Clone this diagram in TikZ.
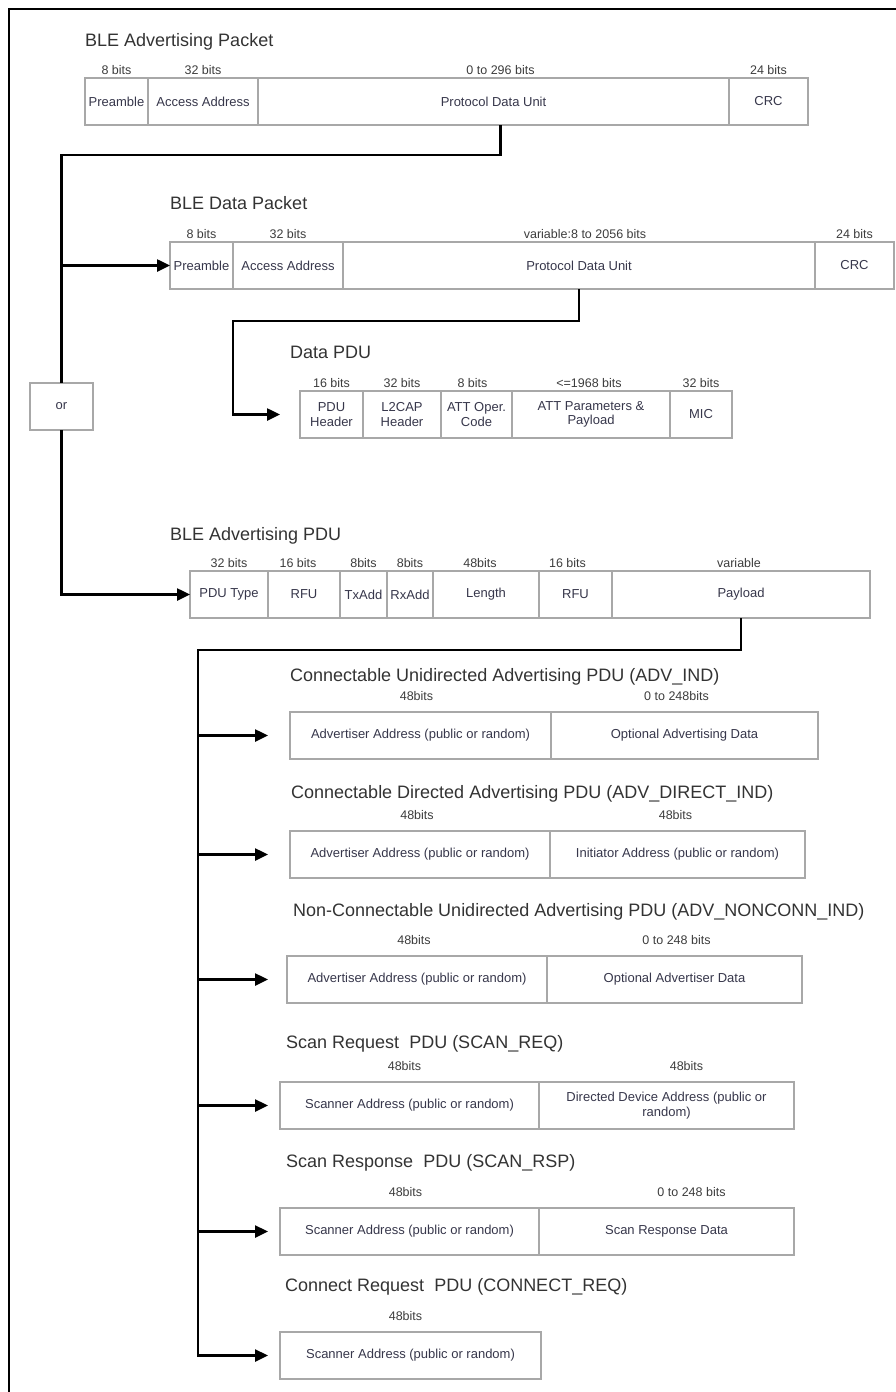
\documentclass[tikz,border=0pt]{standalone}
\usepackage{fontspec}
\setmainfont{Liberation Sans}
\usetikzlibrary{positioning,arrows.meta}

\definecolor{fieldline}{RGB}{168,168,168}
\definecolor{fieldtext}{RGB}{55,55,75}
\definecolor{headtext}{RGB}{51,51,51}
\definecolor{sizetext}{RGB}{60,60,60}

\begin{document}
\begin{tikzpicture}[x=1pt, y=-1pt]
    \tikzset{
      field/.style={draw=fieldline, line width=1.3pt, fill=white, minimum height=47pt,
        inner sep=0pt, outer sep=0pt, anchor=north west, align=center,
        text=fieldtext, font=\fontsize{13}{14.5}\selectfont},
      bitlabel/.style={anchor=base, inner sep=0pt, text=sizetext, font=\fontsize{12.5}{14}\selectfont},
      heading/.style={anchor=base west, inner sep=0pt, text=headtext, font=\fontsize{18}{21}\selectfont},
      bus/.style={line width=2.5pt},
      feed/.style={-{Triangle[length=13pt, width=12pt]}}
    }
    \useasboundingbox (0,0) rectangle (896,1392);

    % Outer frame
    \draw[line width=2pt] (896,8.5) -- (8.5,8.5) -- (8.5,1392);

    % BLE advertising packet
    \node[heading] (atitle) at (85,46) {BLE Advertising Packet};
    \node[field, minimum width=63pt] (apre) at (85,78) {Preamble};
    \node[field, minimum width=110pt, right=0pt of apre] (aaddr) {Access Address};
    \node[field, minimum width=471pt, right=0pt of aaddr] (apdu) {Protocol Data Unit};
    \node[field, minimum width=79pt, right=0pt of apdu] (acrc) {CRC};
    \node[bitlabel] (aprebits) at ([yshift=4pt]apre.north) {8 bits};
    \node[bitlabel] (aaddrbits) at ([yshift=4pt]aaddr.north) {32 bits};
    \node[bitlabel] (apdubits) at ([yshift=4pt, xshift=7pt]apdu.north) {0 to 296 bits};
    \node[bitlabel] (acrcbits) at ([yshift=4pt]acrc.north) {24 bits};

    % BLE data packet
    \node[heading] (dtitle) at (170,209) {BLE Data Packet};
    \node[field, minimum width=63pt] (dpre) at (170,242) {Preamble};
    \node[field, minimum width=110pt, right=0pt of dpre] (daddr) {Access Address};
    \node[field, minimum width=472pt, right=0pt of daddr] (dpdu) {Protocol Data Unit};
    \node[field, minimum width=79pt, right=0pt of dpdu] (dcrc) {CRC};
    \node[bitlabel] (dprebits) at ([yshift=4pt]dpre.north) {8 bits};
    \node[bitlabel] (daddrbits) at ([yshift=4pt]daddr.north) {32 bits};
    \node[bitlabel] (dpdubits) at ([yshift=4pt, xshift=6pt]dpdu.north) {variable:8 to 2056 bits};
    \node[bitlabel] (dcrcbits) at ([yshift=4pt]dcrc.north) {24 bits};

    % Data PDU
    \node[heading] (ptitle) at (290,358) {Data PDU};
    \node[field, minimum width=63pt] (phdr) at (300,391) {PDU\\Header};
    \node[field, minimum width=78pt, right=0pt of phdr] (pl2c) {L2CAP\\Header};
    \node[field, minimum width=71pt, right=0pt of pl2c] (pop) {ATT Oper.\\Code};
    \node[field, minimum width=158pt, right=0pt of pop] (ppar) {ATT Parameters \&\\Payload};
    \node[field, minimum width=62pt, right=0pt of ppar] (pmic) {MIC};
    \node[bitlabel] (phdrbits) at ([yshift=4pt]phdr.north) {16 bits};
    \node[bitlabel] (pl2cbits) at ([yshift=4pt]pl2c.north) {32 bits};
    \node[bitlabel] (popbits) at ([yshift=4pt, xshift=-4pt]pop.north) {8 bits};
    \node[bitlabel] (pparbits) at ([yshift=4pt, xshift=-2pt]ppar.north) {<=1968 bits};
    \node[bitlabel] (pmicbits) at ([yshift=4pt]pmic.north) {32 bits};

    % BLE advertising PDU
    \node[heading] (vtitle) at (170,540) {BLE Advertising PDU};
    \node[field, minimum width=78pt] (vtype) at (190,571) {PDU Type};
    \node[field, minimum width=72pt, right=0pt of vtype] (vrfu) {RFU};
    \node[field, minimum width=47pt, right=0pt of vrfu] (vtx) {TxAdd};
    \node[field, minimum width=46pt, right=0pt of vtx] (vrx) {RxAdd};
    \node[field, minimum width=106pt, right=0pt of vrx] (vlen) {Length};
    \node[field, minimum width=73pt, right=0pt of vlen] (vrfub) {RFU};
    \node[field, minimum width=258pt, right=0pt of vrfub] (vpay) {Payload};
    \node[bitlabel] (vtypebits) at ([yshift=4pt]vtype.north) {32 bits};
    \node[bitlabel] (vrfubits) at ([yshift=4pt, xshift=-6pt]vrfu.north) {16 bits};
    \node[bitlabel] (vtxbits) at ([yshift=4pt]vtx.north) {8bits};
    \node[bitlabel] (vrxbits) at ([yshift=4pt]vrx.north) {8bits};
    \node[bitlabel] (vlenbits) at ([yshift=4pt, xshift=-6pt]vlen.north) {48bits};
    \node[bitlabel] (vrfubbits) at ([yshift=4pt, xshift=-8pt]vrfub.north) {16 bits};
    \node[bitlabel] (vpaybits) at ([yshift=4pt, xshift=-2pt]vpay.north) {variable};

    % Payload variants
    \node[heading] (indtitle) at (290,681) {Connectable Unidirected Advertising PDU (ADV\_IND)};
    \node[field, minimum width=261pt] (indaddr) at (290,712) {Advertiser Address (public or random)};
    \node[field, minimum width=267pt, right=0pt of indaddr] (inddata) {Optional Advertising Data};
    \node[bitlabel] (indaddrbits) at ([yshift=12pt, xshift=-4pt]indaddr.north) {48bits};
    \node[bitlabel] (inddatabits) at ([yshift=12pt, xshift=-8pt]inddata.north) {0 to 248bits};

    \node[heading] (dirtitle) at (291,798) {Connectable Directed Advertising PDU (ADV\_DIRECT\_IND)};
    \node[field, minimum width=260pt] (diraddr) at (290,831) {Advertiser Address (public or random)};
    \node[field, minimum width=255pt, right=0pt of diraddr] (dirinit) {Initiator Address (public or random)};
    \node[bitlabel] (diraddrbits) at ([yshift=12pt, xshift=-3pt]diraddr.north) {48bits};
    \node[bitlabel] (dirinitbits) at ([yshift=12pt, xshift=-2pt]dirinit.north) {48bits};

    \node[heading] (ncntitle) at (293,916) {Non-Connectable Unidirected Advertising PDU (ADV\_NONCONN\_IND)};
    \node[field, minimum width=260pt] (ncnaddr) at (287,956) {Advertiser Address (public or random)};
    \node[field, minimum width=255pt, right=0pt of ncnaddr] (ncndata) {Optional Advertiser Data};
    \node[bitlabel] (ncnaddrbits) at ([yshift=12pt, xshift=-3pt]ncnaddr.north) {48bits};
    \node[bitlabel] (ncndatabits) at ([yshift=12pt, xshift=2pt]ncndata.north) {0 to 248 bits};

    \node[heading] (sreqtitle) at (286,1048) {Scan Request\ \ PDU (SCAN\_REQ)};
    \node[field, minimum width=259pt] (sreqscan) at (280,1082) {Scanner Address (public or random)};
    \node[field, minimum width=255pt, right=0pt of sreqscan] (sreqdev) {Directed Device Address (public or\\random)};
    \node[bitlabel] (sreqscanbits) at ([yshift=12pt, xshift=-5pt]sreqscan.north) {48bits};
    \node[bitlabel] (sreqdevbits) at ([yshift=12pt, xshift=20pt]sreqdev.north) {48bits};

    \node[heading] (srsptitle) at (286,1167) {Scan Response\ \ PDU (SCAN\_RSP)};
    \node[field, minimum width=259pt] (srspscan) at (280,1208) {Scanner Address (public or random)};
    \node[field, minimum width=255pt, right=0pt of srspscan] (srspdata) {Scan Response Data};
    \node[bitlabel] (srspscanbits) at ([yshift=12pt, xshift=-4pt]srspscan.north) {48bits};
    \node[bitlabel] (srspdatabits) at ([yshift=12pt, xshift=25pt]srspdata.north) {0 to 248 bits};

    \node[heading] (creqtitle) at (285,1291) {Connect Request\ \ PDU (CONNECT\_REQ)};
    \node[field, minimum width=261pt] (creqscan) at (280,1332) {Scanner Address (public or random)};
    \node[bitlabel] (creqscanbits) at ([yshift=12pt, xshift=-5pt]creqscan.north) {48bits};

    % Choice between the two packet kinds
    \node[field, minimum width=63pt, anchor=center] (orbox) at (61.5,406.5) {or};

    % Bus lines
    \coordinate (upbus) at (61.5,155);
    \coordinate (lowbus) at (198,650);
    \coordinate (tipline) at (268,0);

    \draw[bus] ([xshift=7pt]apdu.south) |- (upbus) -- (orbox.north);
    \draw[bus, feed] (dpre.west -| upbus) -- (dpre.west);
    \draw[bus, feed] (orbox.south) |- (vtype.west);
    \draw[bus, feed, shorten >=20pt] (dpdu.south) |- (233,321) |- (phdr.west);

    \draw[bus, feed] (vpay.south) |- (lowbus) |- (creqscan.west -| tipline);
    \draw[bus, feed] (indaddr.west -| lowbus) -- (indaddr.west -| tipline);
    \draw[bus, feed] (diraddr.west -| lowbus) -- (diraddr.west -| tipline);
    \draw[bus, feed] (ncnaddr.west -| lowbus) -- (ncnaddr.west -| tipline);
    \draw[bus, feed] (sreqscan.west -| lowbus) -- (sreqscan.west -| tipline);
    \draw[bus, feed] (srspscan.west -| lowbus) -- (srspscan.west -| tipline);
\end{tikzpicture}
\end{document}
